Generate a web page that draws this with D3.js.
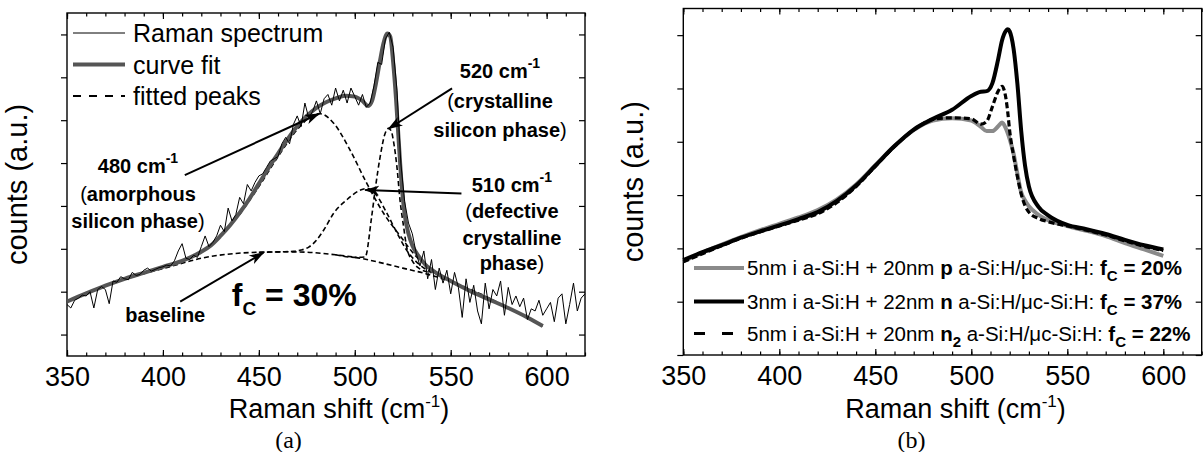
<!DOCTYPE html>
<html>
<head>
<meta charset="utf-8">
<script src="https://cdn.jsdelivr.net/npm/d3@7/dist/d3.min.js"></script>
<style>
  body { margin: 0; background: #fff; }
  svg text { font-family: "Liberation Sans", Arial, Helvetica, sans-serif; fill: #000; white-space: pre; }
</style>
</head>
<body>
<svg id="fig" width="1204" height="452"></svg>
<script>
// ---- shared axis ticks ----
const shiftMinor = [350, 360, 370, 380, 390, 400, 410, 420, 430, 440, 450, 460, 470, 480, 490, 500,
  510, 520, 530, 540, 550, 560, 570, 580, 590, 600, 610, 620];
const shiftMajor = [350, 400, 450, 500, 550, 600];
const countTicksA = [1, 2, 3, 4, 5, 6, 7, 8];
const countTicksB = [0, 1, 2, 3, 4, 5, 6];

// ---- (a) measured Raman spectrum ----
const specShift = [350, 352, 354, 356, 358, 360, 362, 364, 366, 368, 370, 372, 374, 376, 378, 380,
  382, 384, 386, 388, 390, 392, 394, 396, 398, 400, 402, 404, 406, 408, 410, 412, 414, 416, 418, 420,
  422, 424, 426, 428, 430, 432, 434, 436, 438, 440, 442, 444, 446, 448, 450, 452, 454, 456, 458, 460,
  462, 464, 466, 468, 470, 472, 474, 476, 478, 480, 482, 484, 486, 488, 490, 492, 494, 496, 498, 500,
  502, 504, 506, 508, 510, 512, 514, 516, 518, 520, 522, 524, 526, 528, 530, 532, 534, 536, 538, 540,
  542, 544, 546, 548, 550, 552, 554, 556, 558, 560, 562, 564, 566, 568, 570, 572, 574, 576, 578, 580,
  582, 584, 586, 588, 590, 592, 594, 596, 598, 600, 602, 604, 606, 608, 610, 612, 614, 616, 618, 620];
const specCounts = [1.70, 1.62, 1.80, 1.85, 1.92, 1.90, 2.00, 1.62, 2.05, 2.12, 2.05, 1.72, 2.25, 2.22, 2.35, 2.30,
  2.28, 2.45, 2.38, 2.40, 2.50, 2.55, 2.48, 2.52, 2.56, 2.58, 2.62, 2.60, 2.72, 2.95, 3.12, 2.78, 2.75, 2.85, 2.80, 3.05,
  3.30, 3.05, 3.15, 3.30, 3.55, 3.40, 3.95, 3.65, 3.80, 4.20, 4.05, 4.50, 4.35, 4.55, 4.70, 4.75, 4.90, 5.05, 5.10, 5.15,
  5.45, 5.60, 5.45, 5.90, 6.10, 5.85, 6.40, 6.05, 6.20, 6.45, 6.15, 6.50, 6.60, 6.35, 6.75, 6.45, 6.70, 6.40, 6.75, 6.55,
  6.35, 6.60, 6.30, 6.40, 6.80, 7.35, 7.30, 7.90, 8.05, 7.70, 6.70, 5.00, 4.10, 3.60, 3.35, 2.90, 2.60, 2.95, 2.30, 2.75,
  2.05, 2.55, 2.20, 2.50, 1.95, 2.45, 2.10, 1.40, 2.30, 1.75, 2.15, 1.55, 1.25, 2.20, 1.60, 2.05, 1.90, 2.25, 1.45, 2.10,
  1.70, 1.90, 1.65, 1.85, 1.35, 1.60, 1.55, 1.80, 1.45, 1.60, 1.75, 1.30, 1.85, 1.95, 1.25, 1.70, 2.20, 1.55, 1.85, 1.95];

// ---- (a) curve fit ----
const fitShift = [350, 360, 370, 380, 390, 400, 410, 420, 425, 430, 435, 440, 445, 450, 455, 460, 465, 470,
  475, 480, 485, 490, 495, 500, 504, 507, 509, 511, 513, 515, 517, 518.5, 520, 521.5, 523, 524.5, 526,
  528, 530, 533, 537, 542, 550, 560, 570, 580, 590, 598];
const fitCounts = [1.77, 1.96, 2.14, 2.30, 2.44, 2.58, 2.72, 2.93, 3.08, 3.30, 3.55, 3.84, 4.16, 4.52, 4.88, 5.22, 5.56, 5.86,
  6.10, 6.29, 6.42, 6.51, 6.57, 6.55, 6.45, 6.33, 6.45, 6.85, 7.35, 7.80, 8.02, 7.95, 7.35, 6.50, 5.45, 4.45, 3.80,
  3.35, 3.08, 2.85, 2.62, 2.45, 2.25, 2.02, 1.82, 1.62, 1.40, 1.20];

// ---- (a) fitted peaks (each drawn on top of the baseline) ----
const baseShift = [350, 370, 390, 405, 420, 435, 450, 465, 475, 490, 503, 515, 525, 537, 551, 565, 580, 598];
const baseCounts = [1.77, 2.14, 2.42, 2.60, 2.78, 2.88, 2.92, 2.93, 2.92, 2.86, 2.78, 2.66, 2.55, 2.42, 2.22, 1.96, 1.62, 1.20];
const p480Shift = [440, 450, 460, 470, 476, 482, 489, 497, 506, 515, 524, 532, 540, 550];
const p480Counts = [3.80, 4.45, 5.15, 5.78, 6.05, 6.15, 5.93, 5.35, 4.55, 3.83, 3.28, 2.82, 2.52, 2.25];
const p510Shift = [450, 462, 468, 472, 476, 480, 484, 489, 496, 503, 506.5, 511, 516.5, 522, 527, 534, 540];
const p510Counts = [2.92, 2.93, 2.94, 2.97, 3.04, 3.20, 3.45, 3.83, 4.15, 4.37, 4.41, 4.27, 3.85, 3.37, 2.97, 2.62, 2.45];
const p520Shift = [490, 500, 505.4, 508.8, 511, 513.2, 515.8, 517.5, 519, 520.1, 522, 523.6, 525.5, 527, 530, 533, 540];
const p520Counts = [2.86, 2.80, 2.81, 3.75, 4.50, 5.14, 5.69, 5.81, 5.75, 5.53, 4.90, 4.13, 3.50, 3.05, 2.72, 2.56, 2.44];

// ---- (b) three fitted spectra on a common grid ----
const shiftB = [350, 360, 370, 380, 390, 400, 410, 420, 430, 440, 450, 460, 470, 480, 490, 500, 505, 508, 511,
  514, 516, 518, 519, 520, 522, 524, 526, 528, 530, 535, 540, 550, 560, 570, 580, 590, 600];
const countsP20 = [1.76, 1.92, 2.07, 2.21, 2.34, 2.46, 2.58, 2.72, 2.92, 3.20, 3.56, 3.92, 4.22, 4.40, 4.44, 4.40, 4.28, 4.20, 4.20,
  4.29, 4.36, 4.25, 4.16, 4.05, 3.78, 3.40, 3.05, 2.90, 2.79, 2.63, 2.53, 2.42, 2.33, 2.23, 2.10, 1.98, 1.86];
const countsN37 = [1.78, 1.93, 2.06, 2.20, 2.32, 2.43, 2.55, 2.68, 2.89, 3.18, 3.55, 3.92, 4.23, 4.43, 4.60, 4.86, 4.94, 4.95, 5.10,
  5.55, 5.90, 6.08, 6.11, 6.07, 5.75, 5.09, 4.20, 3.55, 3.16, 2.78, 2.62, 2.44, 2.36, 2.27, 2.16, 2.06, 1.98];
const countsN22 = [1.75, 1.90, 2.05, 2.19, 2.31, 2.42, 2.53, 2.65, 2.86, 3.16, 3.54, 3.91, 4.22, 4.42, 4.45, 4.43, 4.33, 4.38, 4.66,
  4.95, 5.04, 4.82, 4.55, 4.20, 3.74, 3.35, 3.02, 2.80, 2.68, 2.56, 2.50, 2.42, 2.34, 2.25, 2.14, 2.04, 1.96];

const legendA = ['Raman spectrum', 'curve fit', 'fitted peaks'];
const legendB = [
  { lead: '5nm i a-Si:H + 20nm ', dop: 'p', fc: '20%' },
  { lead: '3nm i a-Si:H + 22nm ', dop: 'n', fc: '37%' },
  { lead: '5nm i a-Si:H + 20nm ', dop: 'n', sub: '2', fc: '22%' },
];

const svg = d3.select('#fig');

svg.append('defs').append('marker')
  .attr('id', 'arrowhead')
  .attr('markerUnits', 'userSpaceOnUse')
  .attr('markerWidth', 16).attr('markerHeight', 12)
  .attr('refX', 14).attr('refY', 6)
  .attr('orient', 'auto')
  .append('path')
  .attr('d', 'M0,1 L15,6 L0,11 L4,6 Z')
  .attr('fill', '#000');

function makePanel(frame, yDomain, yTicks) {
  const x = d3.scaleLinear().domain([350, 620]).range([frame.left, frame.right]);
  const y = d3.scaleLinear().domain(yDomain).range([frame.bottom, frame.top]);
  const g = svg.append('g');
  const axes = g.append('g').attr('class', 'axes');

  const addAxis = (axis, tx, ty) => axes.append('g')
    .attr('transform', `translate(${tx},${ty})`)
    .call(axis)
    .call(s => s.select('.domain').remove())
    .call(s => s.selectAll('.tick line').attr('stroke', '#000').attr('stroke-width', 1.2));

  addAxis(d3.axisBottom(x).tickValues(shiftMinor).tickSize(-3.5).tickFormat(''), 0, frame.bottom);
  addAxis(d3.axisBottom(x).tickValues(shiftMajor).tickSize(-6).tickPadding(11).tickFormat(d3.format('d')), 0, frame.bottom)
    .selectAll('text').attr('font-size', 27).attr('font-family', null);
  addAxis(d3.axisTop(x).tickValues(shiftMinor).tickSize(-3.5).tickFormat(''), 0, frame.top);
  addAxis(d3.axisTop(x).tickValues(shiftMajor).tickSize(-6).tickFormat(''), 0, frame.top);
  addAxis(d3.axisLeft(y).tickValues(yTicks).tickSize(6).tickFormat(''), frame.left, 0);
  addAxis(d3.axisRight(y).tickValues(yTicks).tickSize(-6).tickFormat(''), frame.right, 0);

  g.append('rect')
    .attr('x', frame.left).attr('y', frame.top)
    .attr('width', frame.right - frame.left).attr('height', frame.bottom - frame.top)
    .attr('fill', 'none').attr('stroke', '#000').attr('stroke-width', 1.4);

  // axis titles
  g.append('text')
    .attr('transform', `translate(${frame.left - 40},${(frame.top + frame.bottom) / 2}) rotate(-90)`)
    .attr('text-anchor', 'middle')
    .attr('font-size', 29)
    .text('counts (a.u.)');

  const xt = g.append('text')
    .attr('x', (frame.left + frame.right) / 2 + 13)
    .attr('y', 418)
    .attr('text-anchor', 'middle')
    .attr('font-size', 27);
  xt.append('tspan').text('Raman shift (cm');
  xt.append('tspan').attr('font-size', 17).attr('dy', -11).text('-1');
  xt.append('tspan').attr('dy', 11).text(')');

  return { g, x, y, frame };
}

function lineOf(p, xs, ys, curve) {
  return d3.line()
    .x((d, i) => p.x(xs[i]))
    .y(d => p.y(d))
    .curve(curve || d3.curveMonotoneX)(ys);
}

// ================= panel (a) =================
const A = makePanel({ left: 67, right: 585, top: 13, bottom: 356 }, [0.5, 8.5], countTicksA);

[[baseShift, baseCounts], [p480Shift, p480Counts], [p510Shift, p510Counts], [p520Shift, p520Counts]]
  .forEach(([xs, ys]) => {
    A.g.append('path')
      .attr('d', lineOf(A, xs, ys))
      .attr('fill', 'none').attr('stroke', '#000')
      .attr('stroke-width', 1.6).attr('stroke-dasharray', '5,3');
  });

A.g.append('path')
  .attr('d', lineOf(A, fitShift, fitCounts))
  .attr('fill', 'none').attr('stroke', '#555').attr('stroke-width', 4).attr('stroke-linejoin', 'round');

A.g.append('path')
  .attr('d', lineOf(A, specShift, specCounts, d3.curveLinear))
  .attr('fill', 'none').attr('stroke', '#000').attr('stroke-width', 1);

// legend (a)
const legA = A.g.append('g');
const legStyles = [
  { stroke: '#000', width: 1, dash: null },
  { stroke: '#555', width: 4, dash: null },
  { stroke: '#000', width: 1.8, dash: '8,8' },
];
legendA.forEach((label, i) => {
  const yy = 33 + i * 31.5;
  legA.append('line')
    .attr('x1', A.frame.left + 6).attr('x2', A.frame.left + 58)
    .attr('y1', yy).attr('y2', yy)
    .attr('stroke', legStyles[i].stroke).attr('stroke-width', legStyles[i].width)
    .attr('stroke-dasharray', legStyles[i].dash);
  legA.append('text')
    .attr('x', A.frame.left + 66).attr('y', yy + 9)
    .attr('font-size', 25)
    .text(label);
});

// arrows (a)
const arrowsA = [
  { from: [411.4, 4.72], to: [481.4, 6.15] },
  { from: [550.7, 6.74], to: [517.6, 5.80] },
  { from: [555.6, 4.29], to: [505.4, 4.37] },
  { from: [409.0, 1.77], to: [452.4, 2.91] },
];
arrowsA.forEach(a => {
  A.g.append('line')
    .attr('x1', A.x(a.from[0])).attr('y1', A.y(a.from[1]))
    .attr('x2', A.x(a.to[0])).attr('y2', A.y(a.to[1]))
    .attr('stroke', '#000').attr('stroke-width', 2)
    .attr('marker-end', 'url(#arrowhead)');
});

// peak labels (a): first line "NNN cm^-1", then lines with regular parentheses
const peakLabels = [
  { at: [387, 4.76], wave: '480', lines: [['(', 'amorphous', ''], ['', 'silicon phase', ')']], gaps: [28, 55] },
  { at: [575.7, 6.98], wave: '520', lines: [['(', 'crystalline', ''], ['', 'silicon phase', ')']], gaps: [30, 59] },
  { at: [581.9, 4.33], wave: '510', lines: [['(', 'defective', ''], ['', 'crystalline', ''], ['', 'phase', ')']], gaps: [26.5, 53, 78.5] },
];
peakLabels.forEach(lb => {
  const cx = A.x(lb.at[0]);
  const cy = A.y(lb.at[1]);
  const t0 = A.g.append('text')
    .attr('x', cx).attr('y', cy).attr('text-anchor', 'middle')
    .attr('font-size', 20).attr('font-weight', 'bold');
  t0.append('tspan').text(`${lb.wave} cm`);
  t0.append('tspan').attr('font-size', 14).attr('dy', -10).text('-1');
  lb.lines.forEach((parts, i) => {
    const t = A.g.append('text')
      .attr('x', cx).attr('y', cy + lb.gaps[i]).attr('text-anchor', 'middle')
      .attr('font-size', 20);
    if (parts[0]) t.append('tspan').text(parts[0]);
    t.append('tspan').attr('font-weight', 'bold').text(parts[1]);
    if (parts[2]) t.append('tspan').text(parts[2]);
  });
});

A.g.append('text')
  .attr('x', A.x(401.2)).attr('y', A.y(1.30))
  .attr('text-anchor', 'middle')
  .attr('font-size', 20).attr('font-weight', 'bold')
  .text('baseline');

const fcA = A.g.append('text')
  .attr('x', A.x(435.9)).attr('y', A.y(1.67))
  .attr('font-size', 32).attr('font-weight', 'bold');
fcA.append('tspan').text('f');
fcA.append('tspan').attr('font-size', 19).attr('dy', 9).text('C');
fcA.append('tspan').attr('dy', -9).text(' = 30%');

svg.append('text')
  .attr('x', 288.5).attr('y', 448)
  .attr('text-anchor', 'middle')
  .attr('font-size', 24)
  .style('font-family', '"Liberation Serif", "DejaVu Serif", serif')
  .text('(a)');

// ================= panel (b) =================
const B = makePanel({ left: 683.3, right: 1201.7, top: 8.5, bottom: 355 }, [0, 6.5], countTicksB);

const seriesB = [
  { ys: countsP20, stroke: '#8a8a8a', width: 4, dash: null, legDash: null },
  { ys: countsN37, stroke: '#000', width: 4, dash: null, legDash: null },
  { ys: countsN22, stroke: '#000', width: 3.2, dash: '6,3', legDash: '11,17' },
];
seriesB.forEach(s => {
  B.g.append('path')
    .attr('d', lineOf(B, shiftB, s.ys))
    .attr('fill', 'none').attr('stroke', s.stroke)
    .attr('stroke-width', s.width).attr('stroke-dasharray', s.dash)
    .attr('stroke-linejoin', 'round');
});

legendB.forEach((lb, i) => {
  const yy = [268, 301.5, 333.5][i];
  const s = seriesB[i];
  B.g.append('line')
    .attr('x1', 694).attr('x2', 744).attr('y1', yy).attr('y2', yy)
    .attr('stroke', s.stroke).attr('stroke-width', s.width)
    .attr('stroke-dasharray', s.legDash);
  const t = B.g.append('text')
    .attr('x', 747).attr('y', yy + 7)
    .attr('font-size', 20.5);
  t.append('tspan').text(lb.lead);
  t.append('tspan').attr('font-weight', 'bold').text(lb.dop);
  let shift = 0;
  if (lb.sub) {
    t.append('tspan').attr('font-weight', 'bold').attr('font-size', 15).attr('dy', 6).text(lb.sub);
    shift = 6;
  }
  t.append('tspan').attr('dy', -shift).text(' a-Si:H/\u03bcc-Si:H: ');
  t.append('tspan').attr('font-weight', 'bold').text('f');
  t.append('tspan').attr('font-weight', 'bold').attr('font-size', 15).attr('dy', 6).text('C');
  t.append('tspan').attr('font-weight', 'bold').attr('dy', -6).text(` = ${lb.fc}`);
});

svg.append('text')
  .attr('x', 911.5).attr('y', 448)
  .attr('text-anchor', 'middle')
  .attr('font-size', 24)
  .style('font-family', '"Liberation Serif", "DejaVu Serif", serif')
  .text('(b)');
</script>
</body>
</html>
